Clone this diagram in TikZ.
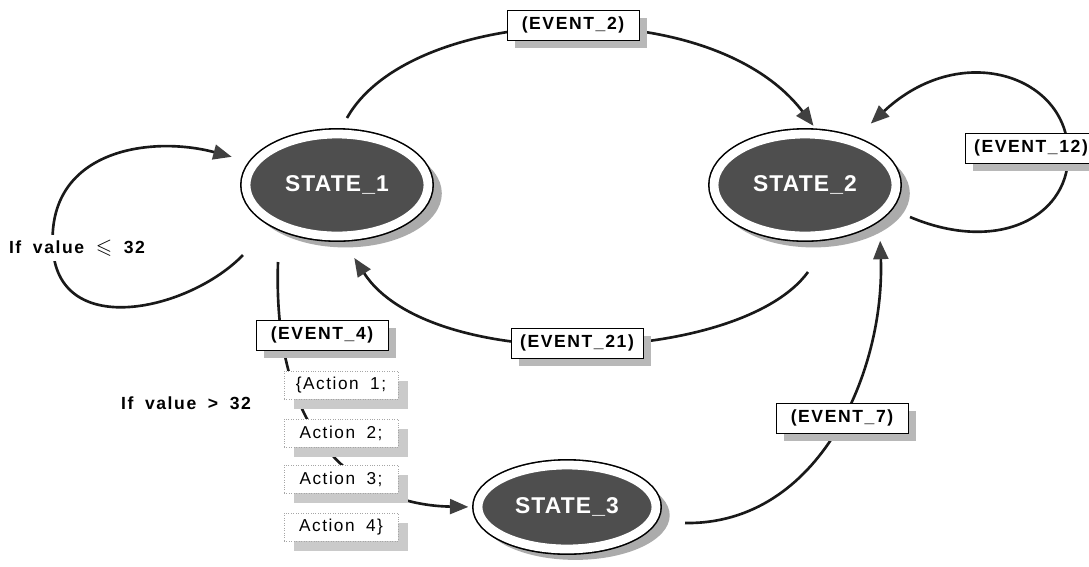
\documentclass[tikz,border=0pt]{standalone}
\usepackage{amssymb}
\usepackage{fontspec}
\newfontfamily\labelfont{Liberation Sans}[LetterSpace=9,WordSpace=1.8]
\newfontfamily\statefont{Liberation Sans}[LetterSpace=5]
\usetikzlibrary{shapes, arrows.meta, shadows, calc}
\definecolor{stategray}{HTML}{4E4E4E}
\definecolor{shadowgray}{HTML}{ABABAB}
\definecolor{boxshadow}{HTML}{B8B8B8}

\begin{document}
\begin{tikzpicture}[
    x=0.02cm, y=-0.02cm,
    state/.style={ellipse, inner sep=0pt, minimum width=3.64cm, minimum height=2.04cm,
        general shadow={fill=shadowgray, shadow scale=1.06, shadow xshift=4.5pt, shadow yshift=-4.5pt},
        preaction={draw=black, line width=6.8pt},
        fill=stategray, draw=white, line width=5pt,
        text=white, font=\statefont\bfseries\fontsize{13}{15}\selectfont},
    box/.style={rectangle, fill=white, inner sep=0pt, minimum height=0.56cm},
    event/.style={box, draw=black, line width=0.5pt, minimum width=2.64cm, minimum height=0.6cm,
        font=\labelfont\bfseries\fontsize{10}{12}\selectfont,
        general shadow={fill=boxshadow, shadow xshift=4.5pt, shadow yshift=-4.5pt}},
    action/.style={box, draw=black!35, densely dotted, minimum width=2.28cm,
        font=\labelfont\fontsize{9.8}{12}\selectfont,
        general shadow={fill=boxshadow!75, shadow xshift=5.5pt, shadow yshift=-5.5pt}},
    cond/.style={fill=white, inner sep=3pt, font=\labelfont\bfseries\fontsize{10}{12}\selectfont},
    trans/.style={draw=black!90, line width=1.5pt, -{Triangle[length=10.5pt,width=8.5pt,color=black!75]}}
    ]

    \useasboundingbox (0,0) rectangle (1089,566);

    % states
    \node[state] (s1) at (337,185) {STATE\_1};
    \node[state] (s2) at (805,185) {STATE\_2};
    \node[state, minimum width=3.56cm, minimum height=1.68cm] (s3) at (567,507) {STATE\_3};

    % loose ends of the transitions
    \coordinate (t2) at ($(s1)+(10,-67)$);
    \coordinate (t12) at ($(s2)+(105,32)$);
    \coordinate (t11) at ($(s1)+(-94,70)$);
    \coordinate (t21) at ($(s2)+(3,87)$);
    \coordinate (t4) at ($(s1)+(-59,77)$);
    \coordinate (t7) at ($(s3)+(118,16)$);

    % transitions
    \draw[trans, shorten >=3pt] (t2) .. controls (410,5) and (710,-10) .. (s2.78);
    \draw[trans, shorten >=12pt] (t12) .. controls (1000,255) and (1072,215) .. (1068,150)
        .. controls (1065,75) and (960,40) .. (s2.43);
    \draw[trans, shorten >=11pt] (t11) .. controls (190,310) and (60,340) .. (53,250)
        .. controls (45,150) and (150,135) .. (s1.165);
    \draw[trans, shorten >=12pt] (t21) .. controls (740,365) and (430,375) .. (s1.-84);
    \draw[trans, shorten >=3pt] (t4) .. controls (272,440) and (360,505) .. (s3.west);
    \draw[trans, shorten >=12pt] (t7) .. controls (820,525) and (885,370) .. (s2.-25);

    % labels
    \node[event] (ev2) at (573,25) {(EVENT\_2)};
    \node[event] (ev12) at (1031,148) {(EVENT\_12)};
    \node[event] (ev21) at (577,343) {(EVENT\_21)};
    \node[event] (ev4) at (322,335) {(EVENT\_4)};
    \node[event] (ev7) at (842,418) {(EVENT\_7)};
    \node[action] (a1) at (341,385) {\{Action 1;};
    \node[action] (a2) at (341,433) {Action 2;};
    \node[action] (a3) at (341,479) {Action 3;};
    \node[action] (a4) at (341,527) {Action 4\}};
    \node[cond] (c1) at (77,248) {If value {\fontsize{12}{12}\selectfont$\leqslant$} 32};
    \node[cond] (c2) at (186,403) {If value > 32};

\end{tikzpicture}
\end{document}
